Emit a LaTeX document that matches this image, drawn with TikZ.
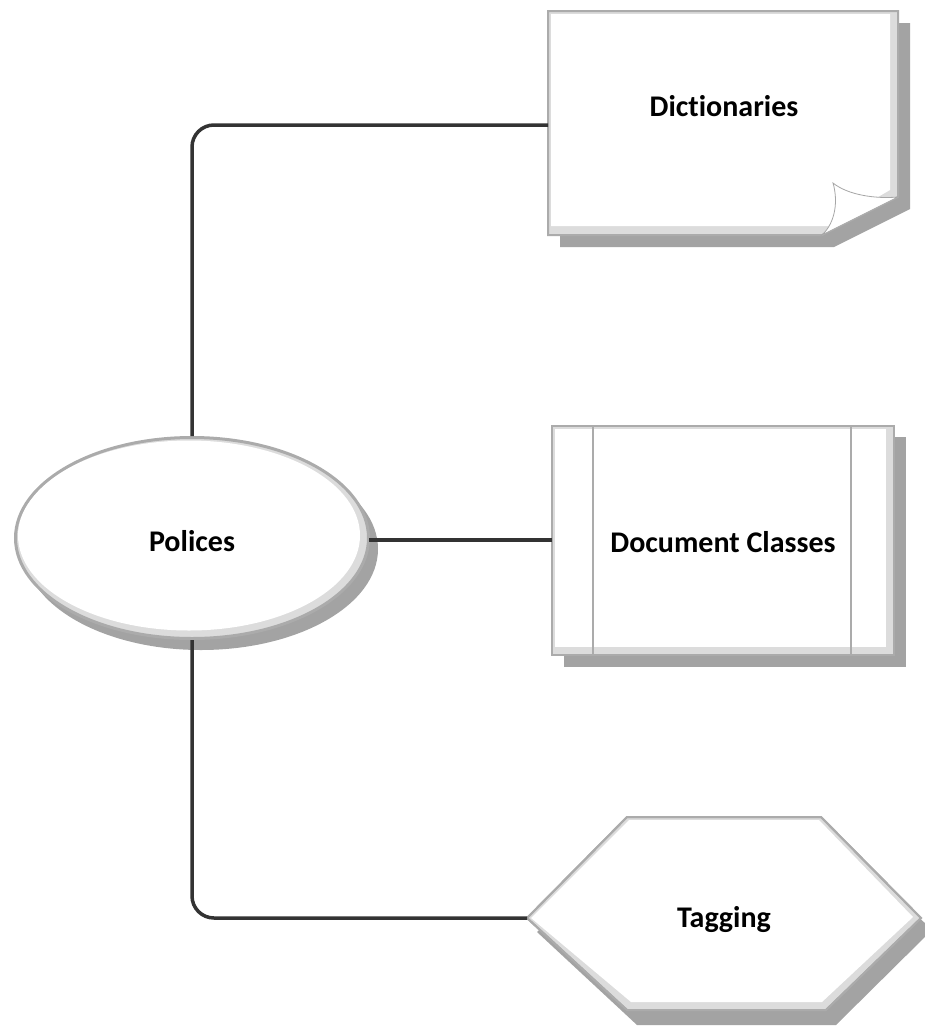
\documentclass[tikz,border=0pt]{standalone}
\usepackage{fontspec}
\setmainfont[Ligatures={NoCommon}]{Carlito}
\usetikzlibrary{shapes.geometric}
\definecolor{shadowc}{HTML}{A3A3A3}
\definecolor{borderc}{HTML}{ABABAB}
\definecolor{bandc}{HTML}{DCDCDC}
\definecolor{connc}{HTML}{333333}
\tikzset{
  shadowfill/.style={fill=shadowc, draw=none},
  bandfill/.style={fill=bandc, draw=borderc, line width=2pt},
  innerfill/.style={fill=white, draw=none},
  label/.style={font=\fontsize{30}{34}\selectfont\bfseries, inner sep=0pt},
  conn/.style={draw=connc, line width=3.5pt, rounded corners=22pt},
}
\begin{document}
\begin{tikzpicture}[x=1pt,y=-1pt]
\useasboundingbox (0,0) rectangle (925,1034);
% ---------- Dictionaries (page with curl) ----------
\fill[shadowfill] (560,23) -- (910,23) -- (910,209) -- (834,247) -- (560,247) -- cycle;
\path[bandfill] (548,11) -- (898,11) -- (898,197) -- (822,235) -- (548,235) -- cycle;
\fill[innerfill] (551,14) -- (890,14) -- (890,190) -- (828,226) -- (551,226) -- cycle;
\filldraw[fill=white, draw=gray!70, line width=0.8pt] (833,183) .. controls (848,195) and (875,199) .. (898,197) -- (822,235) .. controls (836,222) and (838,200) .. (833,183) -- cycle;
\node[label] (dict) at (724,106) {Dictionaries};
\coordinate (dictW) at (548,125);
% ---------- Document Classes ----------
\fill[shadowfill] (564,437) rectangle (906,667);
\path[bandfill] (552,426) rectangle (894,655);
\fill[innerfill] (555,429) rectangle (886,647);
\draw[borderc, line width=2pt] (593,426) -- (593,655) (851,426) -- (851,655);
\path[draw=borderc, line width=2pt] (552,426) rectangle (894,655);
\node[label] (doc) at (723,542) {Document Classes};
\coordinate (docW) at (552,540);
% ---------- Tagging (hexagon) ----------
\fill[shadowfill] (537,932) -- (637,831) -- (830,831) -- (932,930) -- (836,1025) -- (637,1025) -- cycle;
\path[bandfill] (527,918) -- (627,817) -- (821,817) -- (921,918) -- (826,1010) -- (627,1010) -- cycle;
\fill[innerfill] (531,918) -- (629,820) -- (819,820) -- (913,917) -- (822,1002) -- (631,1002) -- cycle;
\path[draw=borderc, line width=2pt] (527,918) -- (627,817) -- (821,817) -- (921,918) -- (826,1010) -- (627,1010) -- cycle;
\node[label] (tag) at (724,920) {Tagging};
\coordinate (tagW) at (527,918);
% ---------- Polices (ellipse) ----------
\fill[shadowfill] (201,549) ellipse [x radius=177, y radius=101];
\node[ellipse, fill=bandc, draw=borderc, line width=2pt, minimum width=354pt, minimum height=202pt, inner sep=0pt] (pol) at (192,538) {};
\fill[innerfill] (189,535.5) ellipse [x radius=171, y radius=95];
\draw[borderc, line width=2pt] (192,538) ellipse [x radius=176, y radius=100];
\node[label] at (192,541) {Polices};
% ---------- connectors ----------
\draw[conn] (pol.north) |- (dictW);
\draw[conn] ([xshift=-1pt]pol.east |- docW) -- (docW);
\draw[conn] (pol.south) |- (tagW);
\end{tikzpicture}
\end{document}
